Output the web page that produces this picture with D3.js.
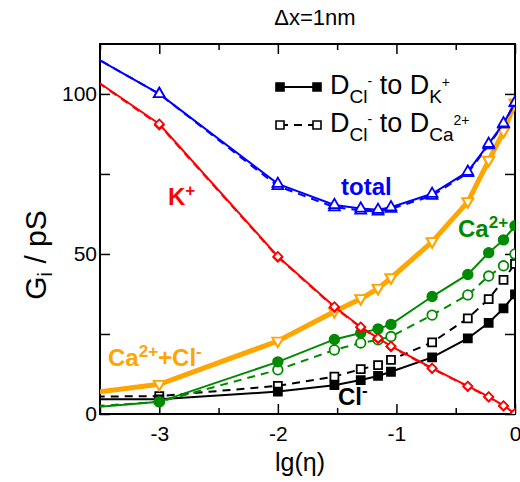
<!DOCTYPE html>
<html>
<head>
<meta charset="utf-8">
<script src="https://cdn.jsdelivr.net/npm/d3@7"></script>
<style>
  body { margin: 0; background: #fff; }
  svg { font-family: "Liberation Sans", Arial, sans-serif; }
</style>
</head>
<body>
<div id="chart"></div>
<script>
// lg(eta) positions of the simulated points (first one lies left of the frame)
const lgEta = [-4, -3, -2, -1.523, -1.301, -1.155, -1.046, -0.699, -0.398, -0.222, -0.097, 0];

// solid lines: D_Cl- set to D_K+
const totalK   = [121, 100, 71.9, 65.3, 64.2, 63.8, 64.6, 68.8, 75.7, 84.4, 90.8, 97.3];
const kK       = [116, 90.6, 49.2, 33.5, 27.2, 23.7, 21.2, 14.3, 8.7, 5.4, 2.6, 0.2];
const caClK    = [4.6, 9.3, 22.8, 32.0, 36.0, 39.2, 42.5, 53.8, 66.3, 79.2, 88.2, 97.1];
const caK      = [0.8, 3.8, 16.3, 23.3, 25.3, 26.6, 28.0, 36.7, 43.6, 50.4, 54.4, 58.8];
const clK      = [4.6, 4.6, 7.0, 9.0, 10.6, 11.9, 13.2, 17.7, 23.6, 28.5, 33.0, 37.4];

// dashed lines: D_Cl- set to D_Ca2+
const totalCa  = [121, 100, 71.2, 64.6, 63.6, 63.3, 64.1, 68.2, 75.3, 84.0, 90.5, 97.2];
const kCa      = [116, 90.3, 49.0, 33.3, 27.0, 23.5, 21.0, 14.2, 8.6, 5.3, 2.5, 0.1];
const caClCa   = [4.8, 9.4, 22.9, 32.2, 36.2, 39.4, 42.7, 54.0, 66.5, 79.4, 88.4, 97.3];
const caCa     = [1.3, 3.8, 13.8, 20.0, 22.2, 23.2, 24.2, 30.9, 37.2, 43.1, 46.3, 50.0];
const clCa     = [5.3, 5.6, 8.8, 11.7, 14.0, 15.3, 16.9, 22.4, 29.9, 35.9, 41.9, 46.9];

const xMajor = [-3, -2, -1, 0];
const xMinor = [-3.5, -2.5, -1.5, -0.5];
const yMajor = [0, 50, 100];
const yMinor = [25, 75];

const W = 520, H = 482;
const margin = { top: 44, right: 5, bottom: 68, left: 100 };
const width = W - margin.left - margin.right;
const height = H - margin.top - margin.bottom;

const svg = d3.select("#chart").append("svg")
    .attr("width", W)
    .attr("height", H);

const g = svg.append("g")
    .attr("transform", "translate(" + margin.left + "," + margin.top + ")");

const x = d3.scaleLinear().domain([-3.5, 0]).range([0, width]);
const y = d3.scaleLinear().domain([0, 115.6]).range([height, 0]);

g.append("clipPath").attr("id", "clip")
    .append("rect").attr("width", width).attr("height", height);

// axes, ticks pointing inward on all four sides
function tickAxis(axis, vals, size) {
    return axis.tickValues(vals).tickSize(size).tickSizeOuter(0);
}
const bottom = g.append("g").attr("class", "axis")
    .attr("transform", "translate(0," + height + ")")
    .call(tickAxis(d3.axisBottom(x), xMajor, -10).tickFormat(d => String(d)));
g.append("g").attr("class", "axis")
    .attr("transform", "translate(0," + height + ")")
    .call(tickAxis(d3.axisBottom(x), xMinor, -6).tickFormat(""));
g.append("g").attr("class", "axis")
    .call(tickAxis(d3.axisTop(x), xMajor, -10).tickFormat(""));
g.append("g").attr("class", "axis")
    .call(tickAxis(d3.axisTop(x), xMinor, -6).tickFormat(""));
g.append("g").attr("class", "axis")
    .call(tickAxis(d3.axisLeft(y), yMajor, -10));
g.append("g").attr("class", "axis")
    .call(tickAxis(d3.axisLeft(y), yMinor, -10).tickFormat(""));
g.append("g").attr("class", "axis")
    .attr("transform", "translate(" + width + ",0)")
    .call(tickAxis(d3.axisRight(y), yMajor, -10).tickFormat(""));
g.append("g").attr("class", "axis")
    .attr("transform", "translate(" + width + ",0)")
    .call(tickAxis(d3.axisRight(y), yMinor, -10).tickFormat(""));

g.selectAll(".axis path").remove();
g.selectAll(".axis line").attr("stroke", "#000").attr("stroke-width", 1.5);
g.selectAll(".axis text")
    .attr("font-size", 21)
    .attr("font-family", "Liberation Sans, Arial, sans-serif")
    .attr("fill", "#000");
bottom.selectAll("text").attr("dy", "1.15em");

// frame
g.append("rect")
    .attr("width", width).attr("height", height)
    .attr("fill", "none").attr("stroke", "#000").attr("stroke-width", 2);

const line = d3.line().x((d, i) => x(lgEta[i])).y(d => y(d));
const plot = g.append("g").attr("clip-path", "url(#clip)");

const series = [
    { vals: clCa, color: "#000", dash: "8,6", w: 2, mark: "square", fill: "#fff" },
    { vals: clK, color: "#000", dash: null, w: 2, mark: "square", fill: "#000" },
    { vals: caCa, color: "#008a00", dash: "8,6", w: 2, mark: "circle", fill: "#fff" },
    { vals: caK, color: "#008a00", dash: null, w: 2, mark: "circle", fill: "#008a00" },
    { vals: caClK, color: "#ffa500", dash: null, w: 5, mark: "down", fill: "#fff" },
    { vals: caClCa, color: "#ffa500", dash: "8,6", w: 2, mark: "down", fill: "#fff" },
    { vals: kCa, color: "#ff0000", dash: "8,6", w: 2, mark: "diamond", fill: "#fff" },
    { vals: kK, color: "#ff0000", dash: null, w: 2, mark: "diamond", fill: "#fff" },
    { vals: totalCa, color: "#0000ff", dash: "8,6", w: 2, mark: "up", fill: "#fff" },
    { vals: totalK, color: "#0000ff", dash: null, w: 2, mark: "up", fill: "#fff" }
];

const symbols = {
    square: d3.symbol().type(d3.symbolSquare).size(64),
    circle: d3.symbol().type(d3.symbolCircle).size(72),
    diamond: d3.symbol().type(d3.symbolSquare).size(40),
    up: d3.symbol().type(d3.symbolTriangle).size(50),
    down: d3.symbol().type(d3.symbolTriangle).size(50)
};
const rot = { down: " rotate(180)", diamond: " rotate(45)" };

series.forEach(s => {
    plot.append("path")
        .datum(s.vals)
        .attr("d", line)
        .attr("fill", "none")
        .attr("stroke", s.color)
        .attr("stroke-width", s.w)
        .attr("stroke-dasharray", s.dash);
    plot.selectAll(null)
        .data(s.vals.slice(1))
        .enter().append("path")
        .attr("d", symbols[s.mark])
        .attr("transform", (d, i) => "translate(" + x(lgEta[i + 1]) + "," + y(d) + ")" + (rot[s.mark] || ""))
        .attr("fill", s.fill)
        .attr("stroke", s.color)
        .attr("stroke-width", 1.8);
});

// title and axis labels
svg.append("text")
    .attr("x", 315).attr("y", 25)
    .attr("text-anchor", "middle")
    .attr("font-size", 22)
    .text("Δx=1nm");

svg.append("text")
    .attr("x", 300).attr("y", 471)
    .attr("text-anchor", "middle")
    .attr("font-size", 25)
    .text("lg(η)");

const yl = svg.append("text")
    .attr("transform", "translate(46,255) rotate(-90)")
    .attr("text-anchor", "middle")
    .attr("font-size", 30);
yl.append("tspan").text("G");
yl.append("tspan").attr("baseline-shift", "-30%").attr("font-size", 20).text("i");
yl.append("tspan").text(" / pS");

// curve labels
function label(px, py, color, parts) {
    const t = svg.append("text")
        .attr("x", px).attr("y", py)
        .attr("fill", color)
        .attr("font-weight", "bold")
        .attr("font-size", 24);
    parts.forEach(p => {
        const sp = t.append("tspan").text(p[0]);
        if (p[1] === "sup") sp.attr("baseline-shift", "55%").attr("font-size", 17);
    });
}
label(168, 205, "#ff0000", [["K"], ["+", "sup"]]);
label(341, 195, "#0000ff", [["total"]]);
label(458, 237, "#008a00", [["Ca"], ["2+", "sup"]]);
label(108, 366, "#ffa500", [["Ca"], ["2+", "sup"], ["+Cl"], ["-", "sup"]]);
label(338, 405, "#000", [["Cl"], ["-", "sup"]]);

// legend
const legendRows = [
    { dy: 87, dash: null, fill: "#000", sub2: "K", sup2: "+" },
    { dy: 125, dash: "8,6", fill: "#fff", sub2: "Ca", sup2: "2+" }
];
legendRows.forEach(r => {
    svg.append("line")
        .attr("x1", 280).attr("x2", 317)
        .attr("y1", r.dy).attr("y2", r.dy)
        .attr("stroke", "#000").attr("stroke-width", 2)
        .attr("stroke-dasharray", r.dash);
    [280, 317].forEach(px => {
        svg.append("path")
            .attr("d", symbols.square)
            .attr("transform", "translate(" + px + "," + r.dy + ")")
            .attr("fill", r.fill).attr("stroke", "#000").attr("stroke-width", 1.6);
    });
    const t = svg.append("text")
        .attr("x", 330).attr("y", r.dy + 7)
        .attr("font-size", 27);
    t.append("tspan").text("D");
    t.append("tspan").attr("dy", 9).attr("font-size", 19).text("Cl");
    t.append("tspan").attr("dy", -17).attr("font-size", 14).text("-");
    t.append("tspan").attr("dy", 8).text(" to D");
    t.append("tspan").attr("dy", 9).attr("font-size", 19).text(r.sub2);
    t.append("tspan").attr("dy", -16).attr("font-size", 14).text(r.sup2);
});
</script>
</body>
</html>
